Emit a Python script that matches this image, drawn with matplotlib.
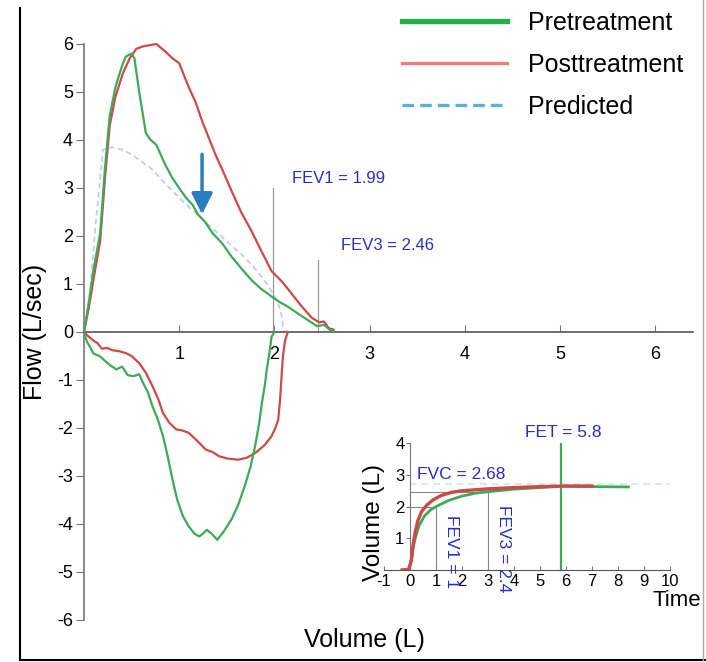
import matplotlib
matplotlib.use("Agg")
import matplotlib.pyplot as plt
from matplotlib.lines import Line2D

plt.rcParams['font.family'] = ['Liberation Sans', 'DejaVu Sans']
plt.rcParams['axes.unicode_minus'] = False

# ---------------- data ----------------
pre_exp_x = [0.0, 0.05, 0.10, 0.17, 0.22, 0.27, 0.33, 0.40, 0.44, 0.50, 0.53, 0.58, 0.65, 0.70, 0.76,
             0.85, 0.93, 1.00, 1.07, 1.14, 1.20, 1.27, 1.35, 1.45, 1.55, 1.65, 1.76, 1.86, 1.97,
             2.05, 2.14, 2.25, 2.35, 2.45, 2.52, 2.58, 2.62]
pre_exp_y = [0.0, 0.6, 1.3, 2.06, 3.4, 4.5, 5.1, 5.55, 5.74, 5.8, 5.7, 5.0, 4.14, 4.0, 3.9,
             3.5, 3.2, 3.0, 2.8, 2.65, 2.44, 2.3, 2.06, 1.85, 1.57, 1.33, 1.08, 0.9, 0.74,
             0.63, 0.53, 0.38, 0.25, 0.12, 0.15, 0.05, 0.02]

post_exp_x = [0.0, 0.05, 0.10, 0.17, 0.22, 0.27, 0.33, 0.41, 0.48, 0.55, 0.62, 0.76, 0.85, 0.93, 1.00,
              1.10, 1.17, 1.24, 1.31, 1.38, 1.46, 1.55, 1.65, 1.76, 1.86, 1.97, 2.08, 2.18,
              2.28, 2.39, 2.47, 2.52, 2.57, 2.62]
post_exp_y = [0.0, 0.5, 1.1, 1.9, 3.2, 4.3, 4.9, 5.4, 5.7, 5.9, 5.95, 6.0, 5.85, 5.7, 5.6,
              5.1, 4.8, 4.4, 4.05, 3.7, 3.35, 2.94, 2.5, 2.1, 1.7, 1.27, 1.05, 0.8,
              0.55, 0.3, 0.2, 0.22, 0.08, 0.05]

pre_insp_x = [0.0, 0.03, 0.06, 0.10, 0.17, 0.22, 0.28, 0.34, 0.40, 0.46, 0.52, 0.58, 0.62, 0.67,
              0.72, 0.78, 0.83, 0.88, 0.93, 0.98, 1.04, 1.10, 1.16, 1.21, 1.25, 1.29, 1.34,
              1.40, 1.47, 1.55, 1.62, 1.69, 1.75, 1.80, 1.84, 1.87, 1.90, 1.92, 1.95, 1.97, 2.0]
pre_insp_y = [0.0, -0.2, -0.3, -0.45, -0.51, -0.6, -0.7, -0.78, -0.72, -0.9, -0.92, -0.88, -1.06, -1.25,
              -1.55, -1.85, -2.17, -2.6, -3.08, -3.5, -3.84, -4.05, -4.2, -4.26, -4.2, -4.12, -4.2,
              -4.33, -4.15, -3.9, -3.6, -3.2, -2.8, -2.35, -1.9, -1.46, -1.1, -0.78, -0.4, -0.1, 0.0]

post_insp_x = [0.0, 0.05, 0.10, 0.14, 0.19, 0.24, 0.30, 0.37, 0.44, 0.50, 0.58, 0.65, 0.72, 0.78,
               0.83, 0.90, 0.97, 1.03, 1.10, 1.18, 1.28, 1.35, 1.42, 1.52, 1.62, 1.71, 1.80,
               1.90, 1.97, 2.01, 2.04, 2.06, 2.08, 2.09, 2.11, 2.14]
post_insp_y = [0.0, -0.1, -0.18, -0.23, -0.35, -0.33, -0.38, -0.4, -0.44, -0.5, -0.65, -0.85, -1.13, -1.4,
               -1.69, -1.9, -2.03, -2.05, -2.1, -2.25, -2.45, -2.5, -2.59, -2.64, -2.66, -2.62, -2.52,
               -2.35, -2.17, -2.0, -1.83, -1.4, -0.78, -0.5, -0.2, 0.0]

pred_x = [0.0, 0.06, 0.12, 0.20, 0.30, 0.40, 0.50, 0.60, 0.71, 0.85, 1.00, 1.13, 1.27, 1.41,
          1.55, 1.69, 1.83, 1.94, 2.04, 2.08, 2.10]
pred_y = [0.0, 0.8, 2.2, 3.8, 3.85, 3.8, 3.7, 3.55, 3.4, 3.1, 2.8, 2.55, 2.3, 2.05,
          1.8, 1.55, 1.25, 0.95, 0.6, 0.3, 0.0]

fev1_main, fev3_main = 1.99, 2.46
fev1_top, fev3_top = 3.0, 1.5
arrow_x, arrow_y0, arrow_y1 = 1.24, 3.7, 2.45

# inset (volume-time)
post_t = [-0.3, -0.05, 0.05, 0.12, 0.20, 0.30, 0.45, 0.65, 0.90, 1.2, 1.6, 2.0, 3.0, 4.0, 5.0, 6.0, 7.0]
post_v = [0.0, 0.02, 0.3, 0.8, 1.2, 1.55, 1.85, 2.05, 2.22, 2.35, 2.45, 2.5, 2.56, 2.6, 2.63, 2.65, 2.65]
pre_t = [-0.3, -0.05, 0.05, 0.12, 0.20, 0.35, 0.55, 0.80, 1.0, 1.5, 2.0, 2.5, 3.0, 4.0, 5.0, 5.8, 7.0, 8.4]
pre_v = [0.0, 0.02, 0.3, 0.7, 1.0, 1.4, 1.7, 1.9, 2.0, 2.2, 2.33, 2.42, 2.47, 2.55, 2.6, 2.64, 2.63, 2.62]
pred_vol = 2.72
fev1_t, fev1_v = 1.0, 2.0
fev3_t, fev3_v = 3.0, 2.46
fet = 5.8

legend_labels = ['Pretreatment', 'Posttreatment', 'Predicted']

# ---------------- colours ----------------
GREEN = '#3daa58'
RED = '#d04848'
PRED = '#bfd0e2'
TXT_BLUE = '#2b2bc8'
ARROW = '#2a7dc0'

W, H = 706, 662
fig = plt.figure(figsize=(W / 100, H / 100), dpi=100)

# outer frame lines (decoration)
fig.add_artist(Line2D([20 / W, 20 / W], [2 / H, 1 - 8 / H], color='black', lw=1.5))
fig.add_artist(Line2D([20 / W, 1], [2 / H, 2 / H], color='black', lw=1.5))
fig.add_artist(Line2D([703 / W, 703 / W], [2 / H, 1], color='#aaaaaa', lw=1.0))

# ---------------- main axes ----------------
x0px, ux = 84, 95.2
y0px, uy = 332, 48.0
xmin, xmax = 0.0, 6.4
ymin, ymax = -6.5, 6.6
ax = fig.add_axes([x0px / W, (H - (y0px - ymin * uy)) / H,
                   (xmax - xmin) * ux / W, (ymax - ymin) * uy / H])
ax.set_xlim(xmin, xmax)
ax.set_ylim(ymin, ymax)
ax.set_facecolor('none')
for s in ['top', 'right']:
    ax.spines[s].set_visible(False)
ax.spines['bottom'].set_position(('data', 0))
ax.spines['left'].set_bounds(-6, 6)
ax.spines['left'].set_color('#777777')
ax.spines['bottom'].set_color('#555555')
ax.spines['left'].set_linewidth(1.2)
ax.spines['bottom'].set_linewidth(1.2)
ax.set_yticks(range(-6, 7))
ax.set_xticks(range(1, 7))
ax.tick_params(axis='y', direction='out', length=6, labelsize=13, color='#777777', pad=2)
ax.tick_params(axis='x', direction='in', length=5, labelsize=13, color='#777777', pad=10)

ax.plot(pred_x, pred_y, color=PRED, lw=1.3, ls=(0, (3, 2)), zorder=2)
ax.plot(pre_exp_x, pre_exp_y, color=GREEN, lw=1.6, zorder=4)
ax.plot(pre_insp_x, pre_insp_y, color=GREEN, lw=1.6, zorder=4)
ax.plot(post_exp_x, post_exp_y, color=RED, lw=1.6, zorder=3)
ax.plot(post_insp_x, post_insp_y, color=RED, lw=1.6, zorder=3)

ax.plot([fev1_main, fev1_main], [0, fev1_top], color='#999999', lw=0.9)
ax.plot([fev3_main, fev3_main], [0, fev3_top], color='#999999', lw=0.9)
ax.text(2.18, 3.2, 'FEV1 = 1.99', color=TXT_BLUE, fontsize=12, va='center', ha='left')
ax.text(2.7, 1.8, 'FEV3 = 2.46', color=TXT_BLUE, fontsize=12, va='center', ha='left')

ax.annotate('', xy=(arrow_x, arrow_y1), xytext=(arrow_x, arrow_y0),
            arrowprops=dict(arrowstyle='-|>,head_length=0.8,head_width=0.4',
                            mutation_scale=16, color=ARROW, lw=2.5, shrinkA=0, shrinkB=0))

ax.text(-0.51, 0, 'Flow (L/sec)', rotation=90, fontsize=18, ha='center', va='center')
ax.text(2.95, -6.42, 'Volume (L)', fontsize=18, ha='center', va='center')

# legend
handles = [Line2D([], [], color='#22b04b', lw=3.8),
           Line2D([], [], color='#f07c7c', lw=2.4),
           Line2D([], [], color='#5aaee0', lw=2.4, ls=(0, (3.5, 1.8)))]
fig.legend(handles, legend_labels, loc='upper left', bbox_to_anchor=(402 / W, 1 - 11 / H),
           frameon=False, fontsize=18, handlelength=4.2, handletextpad=0.85,
           labelspacing=0.72, borderpad=0, borderaxespad=0)

# ---------------- inset ----------------
ix0, iux = 410, 26.0
iy0, iuy = 570, 31.7
ixmin, ixmax, iymin, iymax = -1, 10, 0, 4
ax2 = fig.add_axes([(ix0 + ixmin * iux) / W, (H - iy0) / H,
                    (ixmax - ixmin) * iux / W, (iymax - iymin) * iuy / H])
ax2.set_xlim(ixmin, ixmax)
ax2.set_ylim(iymin, iymax)
ax2.set_facecolor('none')
for s in ['top', 'right']:
    ax2.spines[s].set_visible(False)
ax2.spines['left'].set_position(('data', 0))
ax2.spines['left'].set_color('#777777')
ax2.spines['bottom'].set_color('#555555')
ax2.set_xticks(range(-1, 11))
ax2.set_yticks([1, 2, 3, 4])
ax2.tick_params(axis='y', direction='out', length=3, labelsize=12, color='#777777', pad=1)
ax2.tick_params(axis='x', direction='in', length=3, labelsize=12, color='#777777', pad=3)

ax2.plot([0, ixmax], [pred_vol, pred_vol], color='#cfe6ee', lw=1.2, ls=(0, (4, 3)), zorder=1)
ax2.plot([0, fev3_t], [fev3_v, fev3_v], color='#888888', lw=0.8)
ax2.plot([0, fev1_t], [fev1_v, fev1_v], color='#888888', lw=0.8)
ax2.plot([fev1_t, fev1_t], [0, fev1_v], color='#888888', lw=0.8)
ax2.plot([fev3_t, fev3_t], [0, fev3_v], color='#888888', lw=0.8)
ax2.plot([fet, fet], [0, 4], color=GREEN, lw=1.6)
ax2.plot(pre_t, pre_v, color=GREEN, lw=2.0, zorder=3)
ax2.plot(post_t, post_v, color=RED, lw=2.4, zorder=4)

ax2.text(0.27, 3.0, 'FVC = 2.68', color=TXT_BLUE, fontsize=12.5, va='center', ha='left')
ax2.text(5.9, 4.35, 'FET = 5.8', color=TXT_BLUE, fontsize=12.5, va='center', ha='center')
ax2.text(1.6, 1.75, 'FEV1 = 1', color=TXT_BLUE, fontsize=12.5, rotation=270,
         ha='center', va='top', clip_on=False)
ax2.text(3.58, 2.05, 'FEV3 = 2.4', color=TXT_BLUE, fontsize=12.5, rotation=270,
         ha='center', va='top', clip_on=False)
ax2.text(-1.4, 1.5, 'Volume (L)', rotation=90, fontsize=17.5, ha='center', va='center')
ax2.text(11.2, -0.95, 'Time', fontsize=16, ha='right', va='center')

fig.savefig('out.png', dpi=100)
